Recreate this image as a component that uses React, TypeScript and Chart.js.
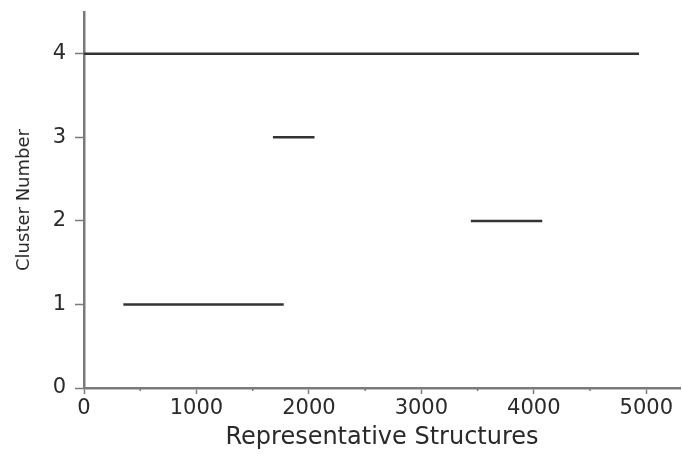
import React, { useEffect, useRef } from "react";
import { Chart, registerables } from "chart.js";

Chart.register(...registerables);

// Data
const clusterIds = [1, 2, 3, 4];
const segStart = [350, 3440, 1680, 0];
const segEnd = [1776, 4075, 2050, 4935];
const xTicks = [0, 1000, 2000, 3000, 4000, 5000];
const xMinorTicks = [500, 1500, 2500, 3500, 4500];
const yTicks = [0, 1, 2, 3, 4];

const AXIS = "#7a7a7a";
const LINE = "#333333";
const TEXT = "#2a2a2a";

const minorTickPlugin = {
  id: "minorTicks",
  afterDraw(chart: any) {
    const xs = chart.scales.x;
    const ctx = chart.ctx;
    ctx.save();
    ctx.strokeStyle = AXIS;
    ctx.lineWidth = 1.5;
    xMinorTicks.forEach((v) => {
      const px = xs.getPixelForValue(v);
      ctx.beginPath();
      ctx.moveTo(px, xs.top);
      ctx.lineTo(px, xs.top + 3);
      ctx.stroke();
    });
    ctx.restore();
  },
};

export default function App() {
  const ref = useRef<HTMLCanvasElement>(null);
  useEffect(() => {
    if (!ref.current) return;
    const datasets = clusterIds.map((c, i) => ({
      label: "Cluster " + c,
      data: [
        { x: segStart[i], y: c },
        { x: segEnd[i], y: c },
      ],
      showLine: true,
      borderColor: LINE,
      backgroundColor: LINE,
      borderWidth: 2.5,
      pointRadius: 0,
      borderCapStyle: "butt" as const,
    }));
    const chart = new Chart(ref.current, {
      type: "scatter",
      data: { datasets },
      options: {
        animation: false,
        responsive: false,
        layout: { padding: { top: 12, right: 2, left: 0, bottom: 0 } },
        plugins: { legend: { display: false }, tooltip: { enabled: false } },
        scales: {
          x: {
            type: "linear",
            min: 0,
            max: 5300,
            afterBuildTicks: (s: any) => {
              s.ticks = xTicks.map((v) => ({ value: v }));
            },
            afterFit: (s: any) => {
              s.height = 69;
              s.paddingLeft = 0;
              s.paddingRight = 0;
            },
            ticks: {
              font: { family: "DejaVu Sans", size: 21 },
              color: TEXT,
              padding: 2,
              maxRotation: 0,
              callback: (v: any) => String(v),
            },
            grid: {
              drawOnChartArea: false,
              drawTicks: true,
              tickLength: 6,
              tickColor: AXIS,
              tickWidth: 1.5,
            },
            border: { display: true, color: AXIS, width: 2.5 },
            title: {
              display: true,
              text: "Representative Structures",
              font: { family: "DejaVu Sans", size: 24 },
              color: TEXT,
              padding: { top: 4, bottom: 5 },
            },
          },
          y: {
            type: "linear",
            min: 0,
            max: 4.5,
            afterBuildTicks: (s: any) => {
              s.ticks = yTicks.map((v) => ({ value: v }));
            },
            afterFit: (s: any) => {
              s.width = 84;
              s.paddingTop = 0;
              s.paddingBottom = 0;
            },
            ticks: {
              font: { family: "DejaVu Sans", size: 21 },
              color: TEXT,
              padding: 9,
              callback: (v: any) => String(v),
            },
            grid: {
              drawOnChartArea: false,
              drawTicks: true,
              tickLength: 9,
              tickColor: AXIS,
              tickWidth: 1.5,
            },
            border: { display: true, color: AXIS, width: 2.5 },
            title: {
              display: true,
              text: "Cluster Number",
              font: { family: "DejaVu Sans", size: 18 },
              color: TEXT,
              padding: { top: 14, bottom: 0 },
            },
          },
        },
      },
      plugins: [minorTickPlugin],
    });
    return () => chart.destroy();
  }, []);
  return (
    <div style={{ position: "fixed", left: 0, top: 0, width: 682, height: 457, background: "#fff" }}>
      <canvas ref={ref} width={682} height={457} />
    </div>
  );
}
